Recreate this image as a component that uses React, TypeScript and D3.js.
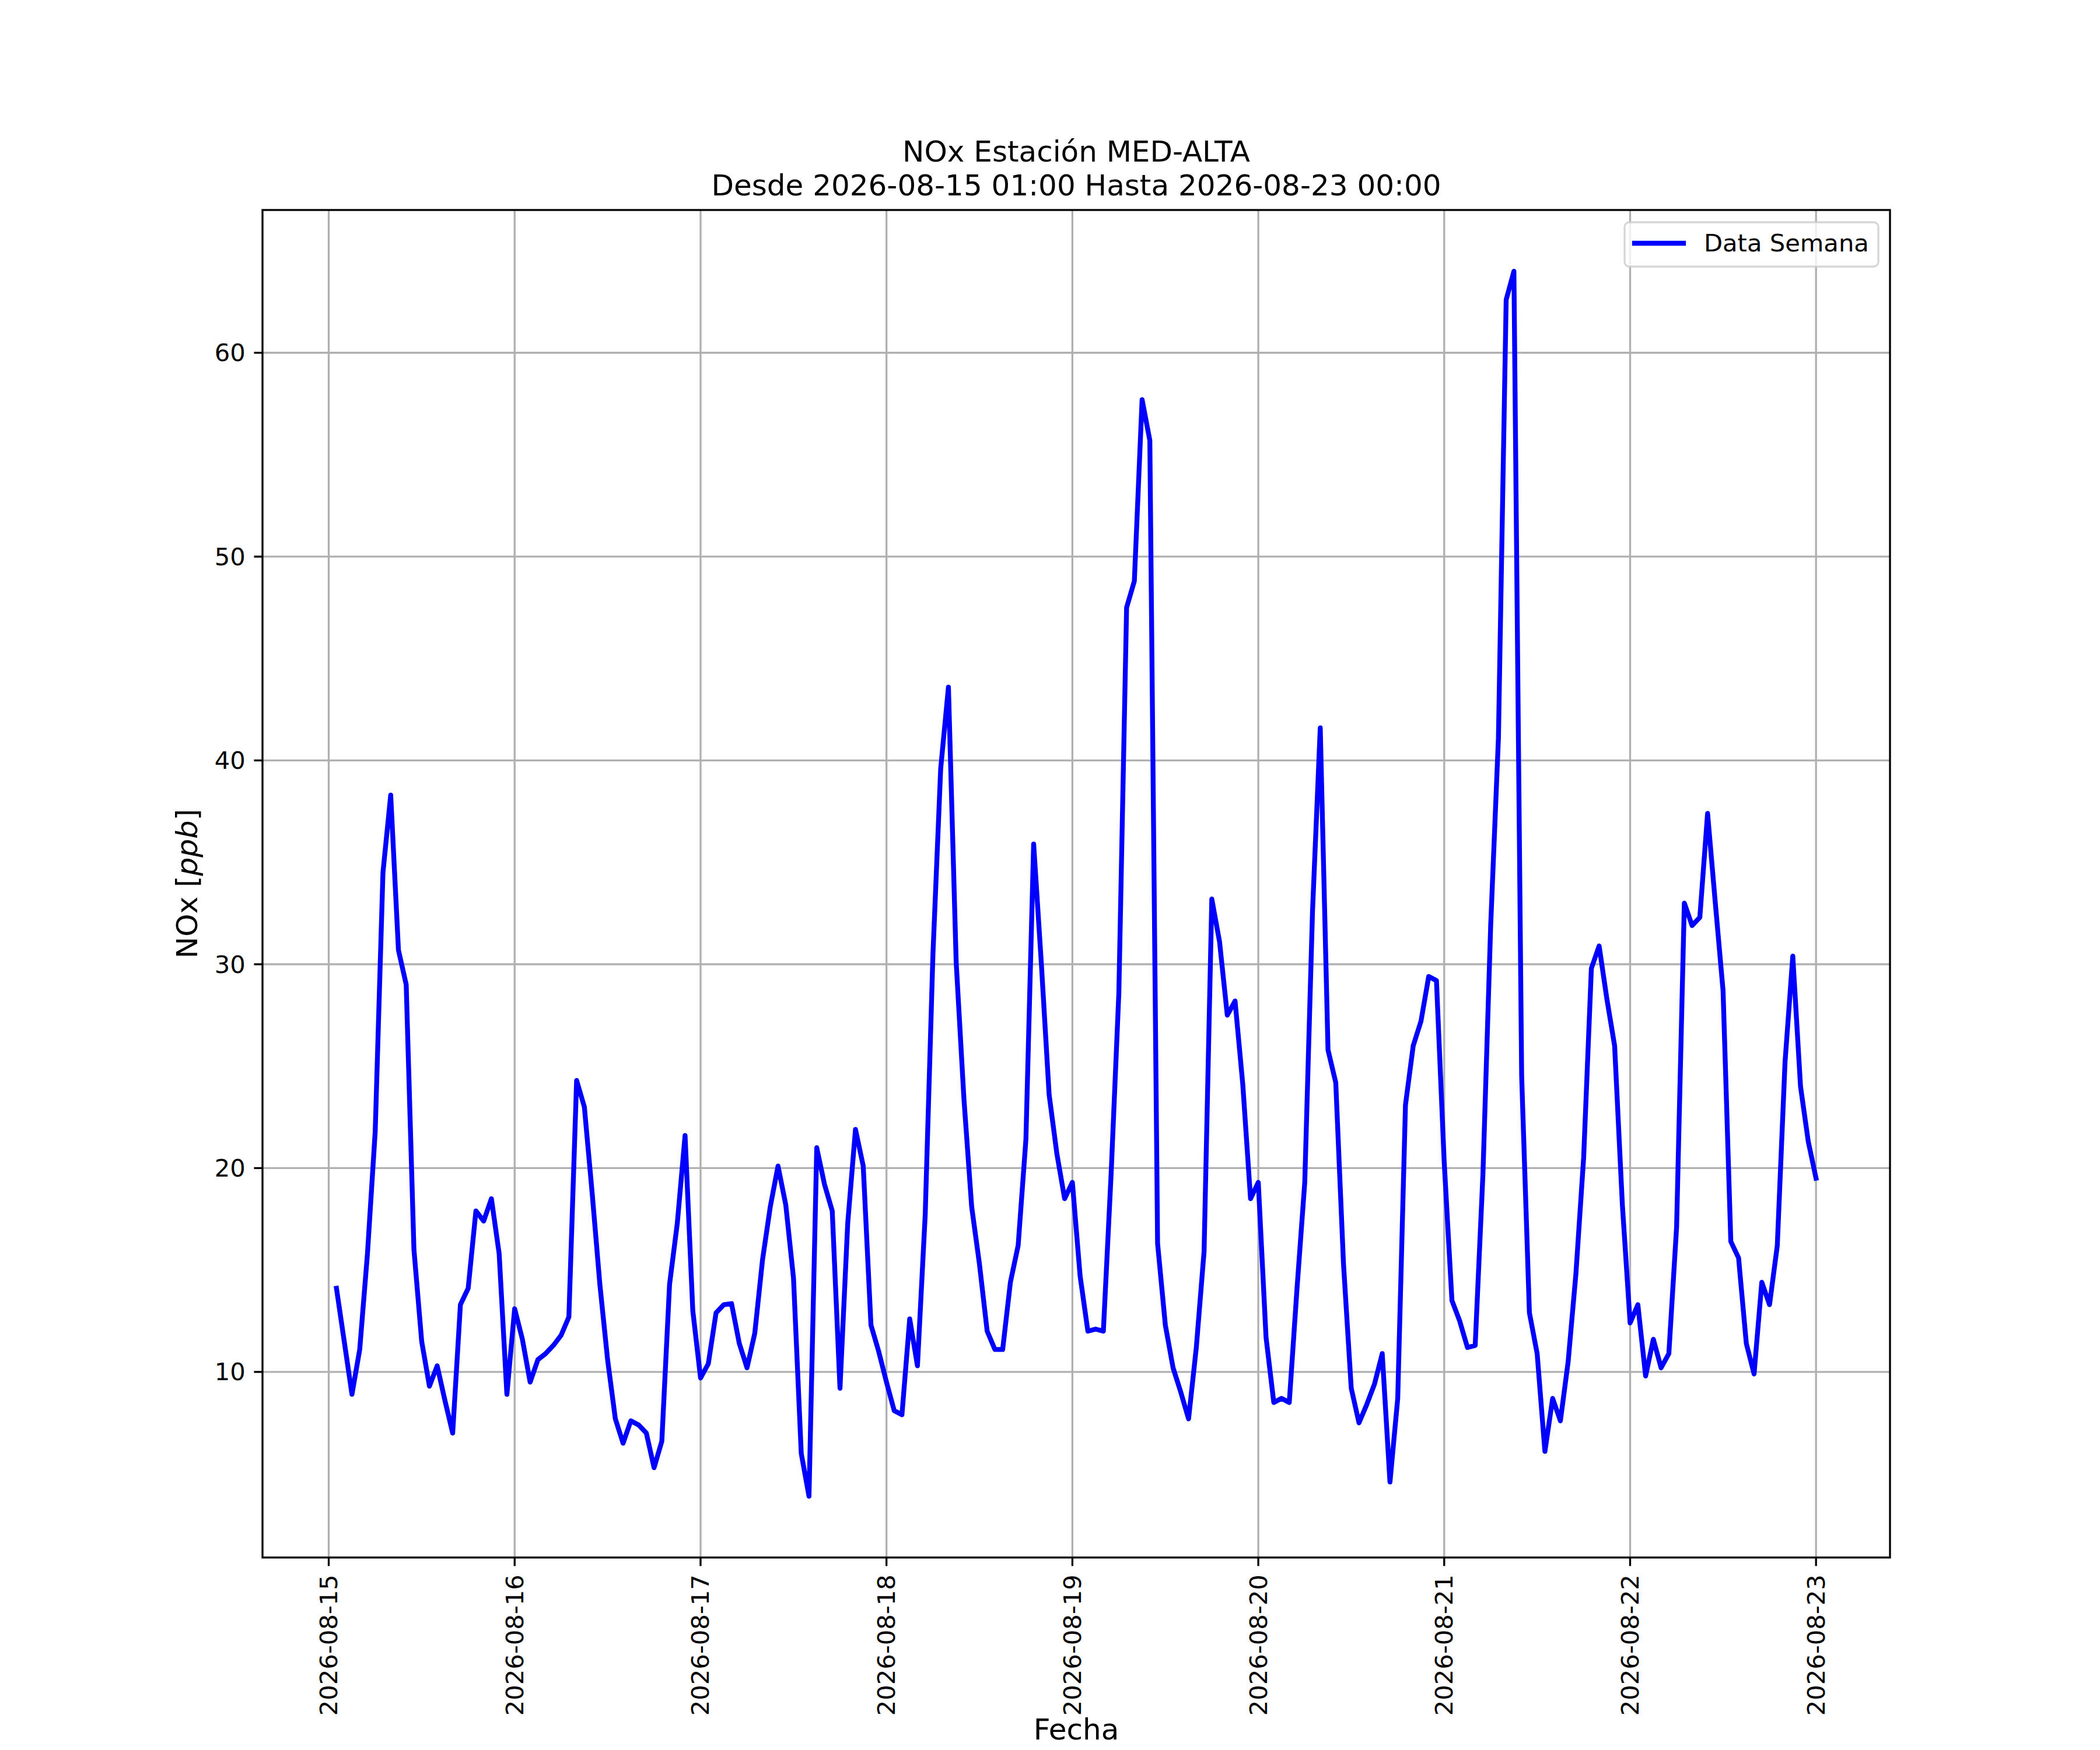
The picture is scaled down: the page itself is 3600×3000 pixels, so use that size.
import { useEffect, useRef } from "react";
import * as d3 from "d3";

const TITLE = "NOx Estación MED-ALTA";
const SUBTITLE = "Desde 2026-08-15 01:00 Hasta 2026-08-23 00:00";
const SERIES_LABEL = "Data Semana";
const X_LABEL = "Fecha";
const FIRST_HOUR = "2026-08-15T01:00:00Z";

// hourly NOx readings (ppb), one row per day: 01:00 ... 24:00
const day15 = [14.1, 11.5, 8.9, 11.1, 15.8, 21.8, 34.5, 38.3, 30.7, 29.0, 16.0, 11.5, 9.3, 10.3, 8.6, 7.0, 13.3, 14.1, 17.9, 17.4, 18.5, 15.8, 8.9, 13.1];
const day16 = [11.6, 9.5, 10.6, 10.9, 11.3, 11.8, 12.7, 24.3, 23.0, 18.8, 14.3, 10.6, 7.7, 6.5, 7.6, 7.4, 7.0, 5.3, 6.6, 14.3, 17.3, 21.6, 13.0, 9.7];
const day17 = [10.4, 12.9, 13.3, 13.35, 11.4, 10.2, 11.9, 15.5, 18.1, 20.1, 18.2, 14.6, 6.0, 3.9, 21.0, 19.2, 17.9, 9.2, 17.3, 21.9, 20.1, 12.3, 11.0, 9.5];
const day18 = [8.1, 7.9, 12.6, 10.3, 17.7, 30.5, 39.6, 43.6, 30.1, 23.4, 18.1, 15.3, 12.0, 11.1, 11.1, 14.4, 16.2, 21.4, 35.9, 30.0, 23.6, 20.7, 18.5, 19.3];
const day19 = [14.7, 12.0, 12.1, 12.0, 19.7, 28.6, 47.5, 48.8, 57.7, 55.7, 16.3, 12.3, 10.2, 9.0, 7.7, 11.2, 15.9, 33.2, 31.1, 27.5, 28.2, 24.1, 18.5, 19.3];
const day20 = [11.7, 8.5, 8.7, 8.5, 14.1, 19.3, 32.6, 41.6, 25.8, 24.2, 15.3, 9.2, 7.5, 8.4, 9.4, 10.9, 4.6, 8.7, 23.1, 26.0, 27.2, 29.4, 29.2, 20.3];
const day21 = [13.5, 12.5, 11.2, 11.3, 19.7, 31.9, 41.1, 62.6, 64.0, 24.5, 12.9, 10.9, 6.1, 8.7, 7.6, 10.5, 14.8, 20.5, 29.8, 30.9, 28.3, 26.0, 18.2, 12.4];
const day22 = [13.3, 9.8, 11.6, 10.2, 10.9, 17.1, 33.0, 31.9, 32.3, 37.4, 33.0, 28.7, 16.4, 15.6, 11.4, 9.9, 14.4, 13.3, 16.2, 25.2, 30.4, 24.0, 21.3, 19.5];

const dayTicks = ["2026-08-15", "2026-08-16", "2026-08-17", "2026-08-18", "2026-08-19", "2026-08-20", "2026-08-21", "2026-08-22", "2026-08-23"];
const yTicks = [10, 20, 30, 40, 50, 60];

const App = () => {
  const svgRef = useRef<SVGSVGElement>(null);

  useEffect(() => {
    if (!svgRef.current) return;
    document.body.style.margin = "0";

    const pt = 300 / 72;
    const font = "DejaVu Sans";
    const left = 450;
    const right = 3240;
    const top = 360;
    const bottom = 2670;

    const values = [...day15, ...day16, ...day17, ...day18, ...day19, ...day20, ...day21, ...day22];
    const t0 = new Date(FIRST_HOUR).getTime();
    const data = values.map((v, i) => ({ date: new Date(t0 + i * 3600e3), value: v }));

    // matplotlib-like 5% margins
    const [tMin, tMax] = d3.extent(data, (d) => d.date.getTime()) as [number, number];
    const tPad = (tMax - tMin) * 0.05;
    const x = d3
      .scaleUtc()
      .domain([new Date(tMin - tPad), new Date(tMax + tPad)])
      .range([left, right]);

    const [vMin, vMax] = d3.extent(values) as [number, number];
    const vPad = (vMax - vMin) * 0.05;
    const y = d3
      .scaleLinear()
      .domain([vMin - vPad, vMax + vPad])
      .range([bottom, top]);

    const svg = d3.select(svgRef.current);
    svg.selectAll("*").remove();
    svg.append("rect").attr("width", 3600).attr("height", 3000).attr("fill", "white");

    const tickDates = dayTicks.map((d) => new Date(d + "T00:00:00Z"));

    // grid
    const grid = svg.append("g").attr("stroke", "#b0b0b0").attr("stroke-width", 0.8 * pt);
    grid
      .selectAll("line.gx")
      .data(tickDates)
      .join("line")
      .attr("x1", (d) => x(d))
      .attr("x2", (d) => x(d))
      .attr("y1", top)
      .attr("y2", bottom);
    grid
      .selectAll("line.gy")
      .data(yTicks)
      .join("line")
      .attr("x1", left)
      .attr("x2", right)
      .attr("y1", (d) => y(d))
      .attr("y2", (d) => y(d));

    // data line
    const line = d3
      .line<{ date: Date; value: number }>()
      .x((d) => x(d.date))
      .y((d) => y(d.value));
    svg
      .append("path")
      .datum(data)
      .attr("d", line)
      .attr("fill", "none")
      .attr("stroke", "#0000ff")
      .attr("stroke-width", 2 * pt)
      .attr("stroke-linejoin", "round")
      .attr("stroke-linecap", "square");

    // spines
    svg
      .append("rect")
      .attr("x", left)
      .attr("y", top)
      .attr("width", right - left)
      .attr("height", bottom - top)
      .attr("fill", "none")
      .attr("stroke", "black")
      .attr("stroke-width", 0.8 * pt);

    const tickLen = 3.5 * pt;
    const tickPad = 3.5 * pt;
    const tickFont = 10 * pt;

    // x ticks
    const gx = svg.append("g");
    gx.selectAll("line")
      .data(tickDates)
      .join("line")
      .attr("x1", (d) => x(d))
      .attr("x2", (d) => x(d))
      .attr("y1", bottom)
      .attr("y2", bottom + tickLen)
      .attr("stroke", "black")
      .attr("stroke-width", 0.8 * pt);
    gx.selectAll("text")
      .data(tickDates)
      .join("text")
      .attr("transform", (d) => `translate(${x(d)},${bottom + tickLen + tickPad}) rotate(-90)`)
      .attr("text-anchor", "end")
      .attr("dominant-baseline", "central")
      .attr("font-family", font)
      .attr("font-size", tickFont)
      .text((d, i) => dayTicks[i]);

    // y ticks
    const gy = svg.append("g");
    gy.selectAll("line")
      .data(yTicks)
      .join("line")
      .attr("x1", left - tickLen)
      .attr("x2", left)
      .attr("y1", (d) => y(d))
      .attr("y2", (d) => y(d))
      .attr("stroke", "black")
      .attr("stroke-width", 0.8 * pt);
    gy.selectAll("text")
      .data(yTicks)
      .join("text")
      .attr("x", left - tickLen - tickPad)
      .attr("y", (d) => y(d))
      .attr("text-anchor", "end")
      .attr("dominant-baseline", "central")
      .attr("font-family", font)
      .attr("font-size", tickFont)
      .text((d) => String(d));

    // titles and axis labels
    const cx = (left + right) / 2;
    svg
      .append("text")
      .attr("x", cx)
      .attr("y", 277)
      .attr("text-anchor", "middle")
      .attr("font-family", font)
      .attr("font-size", 12 * pt)
      .text(TITLE);
    svg
      .append("text")
      .attr("x", cx)
      .attr("y", 335)
      .attr("text-anchor", "middle")
      .attr("font-family", font)
      .attr("font-size", 12 * pt)
      .text(SUBTITLE);
    svg
      .append("text")
      .attr("x", cx)
      .attr("y", 2982)
      .attr("text-anchor", "middle")
      .attr("font-family", font)
      .attr("font-size", 12 * pt)
      .text(X_LABEL);

    const yl = svg
      .append("text")
      .attr("transform", `translate(338,${(top + bottom) / 2}) rotate(-90)`)
      .attr("text-anchor", "middle")
      .attr("font-family", font)
      .attr("font-size", 12 * pt);
    yl.append("tspan").text("NOx [");
    yl.append("tspan").attr("font-style", "italic").text("ppb");
    yl.append("tspan").text("]");

    // legend
    const lg = svg.append("g");
    lg.append("rect")
      .attr("x", 2785)
      .attr("y", 381)
      .attr("width", 435)
      .attr("height", 76)
      .attr("rx", 8)
      .attr("fill", "white")
      .attr("fill-opacity", 0.8)
      .attr("stroke", "#cccccc")
      .attr("stroke-opacity", 0.8)
      .attr("stroke-width", 0.8 * pt);
    lg.append("line")
      .attr("x1", 2802)
      .attr("x2", 2886)
      .attr("y1", 417)
      .attr("y2", 417)
      .attr("stroke", "#0000ff")
      .attr("stroke-width", 2 * pt)
      .attr("stroke-linecap", "square");
    lg.append("text")
      .attr("x", 2921)
      .attr("y", 431)
      .attr("font-family", font)
      .attr("font-size", tickFont)
      .text(SERIES_LABEL);
  }, []);

  return <svg ref={svgRef} width={3600} height={3000} style={{ display: "block" }} />;
};

export default App;
